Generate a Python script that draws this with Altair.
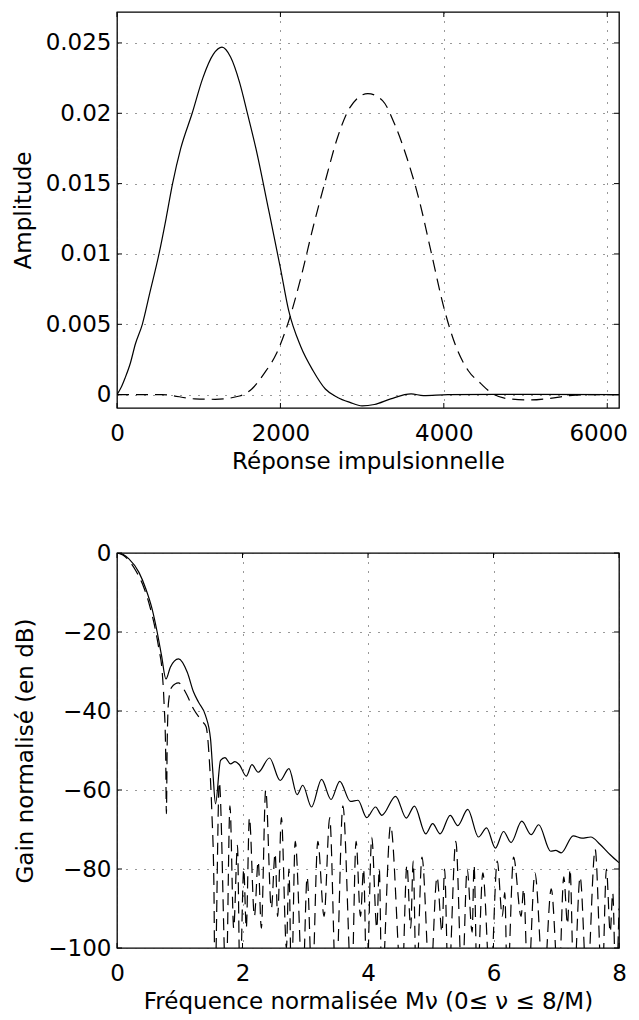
import altair as alt
import pandas as pd

# ---------------- top panel: impulse responses ----------------
top_solid_x = [0, 50, 100, 164, 225, 310, 400, 514, 600, 680, 780, 920, 1050, 1180, 1285,
               1390, 1500, 1600, 1700, 1850, 2000, 2100, 2250, 2400, 2550, 2700, 2850,
               3000, 3150, 3350, 3600, 3750, 4050, 5000, 6144]
top_solid_y = [0, 0.0005, 0.0012, 0.00225, 0.0036, 0.005, 0.0072, 0.010, 0.0125, 0.015,
               0.0175, 0.020, 0.0225, 0.0242, 0.0247, 0.0240, 0.0222, 0.0199, 0.0175,
               0.0133, 0.0090, 0.0060, 0.0034, 0.0017, 0.0004, -0.0002, -0.00055,
               -0.0008, -0.0007, -0.0003, 0.00005, -0.00007, 0.0, 0.00002, 0.0]
top_dash_x = [0, 550, 950, 1200, 1500, 1650, 1800, 1950, 2100, 2250, 2400, 2550, 2700,
              2850, 3070, 3250, 3400, 3550, 3700, 3850, 4000, 4150, 4300, 4450, 4600,
              4800, 5050, 5300, 5540, 5790, 6144]
top_dash_y = [0, 0, -0.0003, -0.00033, -0.0001, 0.0004, 0.0015, 0.0029, 0.0052, 0.0083,
              0.0119, 0.0152, 0.0183, 0.0204, 0.0214, 0.0209, 0.0192, 0.0168, 0.0138,
              0.0100, 0.0062, 0.0034, 0.0017, 0.0008, 0.00005, -0.0003, -0.00038,
              -0.00026, -0.00007, 0.0, 0.0]
top_xticks = [0, 2000, 4000, 6000]
top_yticks = [0, 0.005, 0.01, 0.015, 0.02, 0.025]

# ---------------- bottom panel: frequency responses (dB) ----------------
bot_solid_x = [0, 0.1, 0.19, 0.35, 0.46, 0.56, 0.64, 0.71, 0.78, 0.85, 0.98, 1.12, 1.22,
               1.30, 1.41, 1.49, 1.53, 1.57, 1.65, 1.72, 1.81, 1.88, 1.95, 2.06, 2.15,
               2.25, 2.43, 2.60, 2.74, 2.87, 2.96, 3.10, 3.26, 3.41, 3.55, 3.72, 3.84,
               3.98, 4.12, 4.22, 4.44, 4.61, 4.74, 4.92, 5.03, 5.15, 5.31, 5.43, 5.59,
               5.76, 5.89, 6.03, 6.16, 6.28, 6.45, 6.60, 6.72, 6.91, 6.99, 7.08, 7.27,
               7.41, 7.55, 7.70, 7.86, 8.0]
bot_solid_y = [0, -0.4, -1.5, -4.9, -9.1, -14.2, -20, -26, -31.9, -28.9, -26.8, -30.2,
               -35.2, -37.8, -41.1, -47, -56, -63.5, -52.5, -51.8, -53.4, -52.8, -53.6,
               -56.5, -53.6, -55.5, -51.9, -57.6, -54.6, -61.2, -58.8, -64.3, -57.3,
               -62.4, -57.8, -62.9, -62.6, -67.0, -64.3, -66.4, -61.6, -67.1, -64.1,
               -71.1, -68.5, -71.1, -66.4, -69, -64.9, -71.9, -69.6, -74.7, -70.5,
               -73.3, -67.9, -71.3, -68.8, -75.5, -75.3, -75.9, -71.6, -72.2, -71.9,
               -73.8, -76.4, -78.4]
bot_dash_x = [0, 0.1, 0.19, 0.3, 0.42, 0.52, 0.6, 0.67, 0.72, 0.75, 0.775, 0.787, 0.80,
              0.82, 0.87, 0.98, 1.10, 1.22, 1.35, 1.42, 1.47, 1.51, 1.545, 1.56,
              1.63, 1.74, 1.80, 1.86, 1.92, 1.96, 2.02, 2.06, 2.11, 2.19, 2.25, 2.30,
              2.37, 2.46, 2.52, 2.56, 2.62, 2.70, 2.74, 2.78, 2.84, 2.96, 3.03, 3.11,
              3.20, 3.30, 3.39, 3.49, 3.60, 3.74, 3.81, 3.88, 3.93, 3.98, 4.06, 4.14,
              4.18, 4.22, 4.36, 4.54, 4.62, 4.68, 4.72, 4.77, 4.86, 4.99, 5.10, 5.18,
              5.22, 5.28, 5.40, 5.50, 5.58, 5.66, 5.69, 5.74, 5.83, 5.95, 6.06, 6.14,
              6.18, 6.22, 6.32, 6.44, 6.48, 6.55, 6.66, 6.80, 6.92, 7.04, 7.12, 7.18,
              7.22, 7.28, 7.38, 7.49, 7.62, 7.73, 7.80, 7.86, 7.90, 7.95, 8.0]
bot_dash_y = [0, -0.6, -1.9, -4.5, -8.4, -13.3, -18.5, -24.5, -30, -38, -50, -66, -48,
              -38, -34, -32.9, -35.5, -39.5, -42.5, -44, -52, -65, -85, -110,
              -58, -110, -64, -95, -74, -110, -80, -95, -67, -92, -78, -95,
              -60, -90, -76, -92, -67, -100, -80, -110, -73, -110, -82, -110,
              -73, -92, -67, -110, -64, -110, -73, -92, -80, -110, -72, -95,
              -80, -110, -69, -110, -79, -95, -78, -110, -77, -110, -82, -96,
              -80, -110, -73, -110, -80, -96, -79, -110, -81, -110, -78, -92,
              -86, -110, -77, -92, -85, -110, -81, -110, -85, -110, -82, -94,
              -80, -110, -82, -110, -75, -110, -80, -96, -86, -110, -90]
bot_xticks = [0, 2, 4, 6, 8]
bot_yticks = [0, -20, -40, -60, -80, -100]

FONT = "DejaVu Sans"
W = 502


def panel(sx, sy, dx, dy, xdom, ydom, xticks, yticks, xtitle, ytitle, H, last_shift):
    xsc = alt.Scale(domain=xdom, nice=False, zero=False)
    ysc = alt.Scale(domain=ydom, nice=False, zero=False)
    xax = alt.Axis(values=xticks, format="~r", title=xtitle, ticks=False, tickSize=0,
                   labelPadding=14, titlePadding=5, domain=False, grid=True,
                   labelFlush=False,
                   labelOffset={"condition": {"test": f"datum.value == {xticks[-1]}",
                                              "value": last_shift}, "value": 0})
    yax = alt.Axis(values=yticks, format="~r", title=ytitle, ticks=False, tickSize=0,
                   labelPadding=6, titlePadding=10, domain=False, grid=True)
    solid = alt.Chart(pd.DataFrame({"x": sx, "y": sy, "o": list(range(len(sx)))})).mark_line(
        color="black", strokeWidth=1.2, clip=True, interpolate="monotone"
    ).encode(x=alt.X("x:Q", scale=xsc, axis=xax), y=alt.Y("y:Q", scale=ysc, axis=yax),
             order="o:Q")
    dashed = alt.Chart(pd.DataFrame({"x": dx, "y": dy, "o": list(range(len(dx)))})).mark_line(
        color="black", strokeWidth=1.2, clip=True, interpolate="monotone",
        strokeDash=[12, 7]
    ).encode(x=alt.X("x:Q", scale=xsc, axis=xax), y=alt.Y("y:Q", scale=ysc, axis=yax),
             order="o:Q")
    xt = pd.DataFrame({"x": xticks})
    yt = pd.DataFrame({"y": yticks})
    tb = alt.Chart(xt).mark_rule(color="black", strokeWidth=1).encode(
        x=alt.X("x:Q", scale=xsc, axis=xax), y=alt.value(H), y2=alt.value(H - 5))
    tt = alt.Chart(xt).mark_rule(color="black", strokeWidth=1).encode(
        x=alt.X("x:Q", scale=xsc, axis=xax), y=alt.value(0), y2=alt.value(5))
    tl = alt.Chart(yt).mark_rule(color="black", strokeWidth=1).encode(
        y=alt.Y("y:Q", scale=ysc, axis=yax), x=alt.value(0), x2=alt.value(5))
    tr = alt.Chart(yt).mark_rule(color="black", strokeWidth=1).encode(
        y=alt.Y("y:Q", scale=ysc, axis=yax), x=alt.value(W - 5), x2=alt.value(W))
    return alt.layer(tb, tt, tl, tr, dashed, solid).properties(width=W, height=H)


top = panel(top_solid_x, top_solid_y, top_dash_x, top_dash_y, [0, 6144],
            [-0.00095, 0.0272], top_xticks, top_yticks, "Réponse impulsionnelle",
            "Amplitude", 396, -9)
bottom = panel(bot_solid_x, bot_solid_y, bot_dash_x, bot_dash_y, [0, 8], [-100, 0],
               bot_xticks, bot_yticks, "Fréquence normalisée Mν (0≤ ν ≤ 8/M)",
               "Gain normalisé (en dB)", 395, 0)

chart = alt.vconcat(top, bottom, spacing=67).properties(
    padding={"left": 3, "top": 2, "right": 0, "bottom": 0}
).configure_axis(
    labelFont=FONT, titleFont=FONT, labelFontSize=23, titleFontSize=23,
    labelColor="black", titleColor="black", titleFontWeight="normal",
    gridColor="#333333", gridDash=[1, 8], gridWidth=1, gridOpacity=1
).configure_view(stroke="black", strokeWidth=1.3)

chart.save("out.html", embed_options={"renderer": "svg", "actions": False})
